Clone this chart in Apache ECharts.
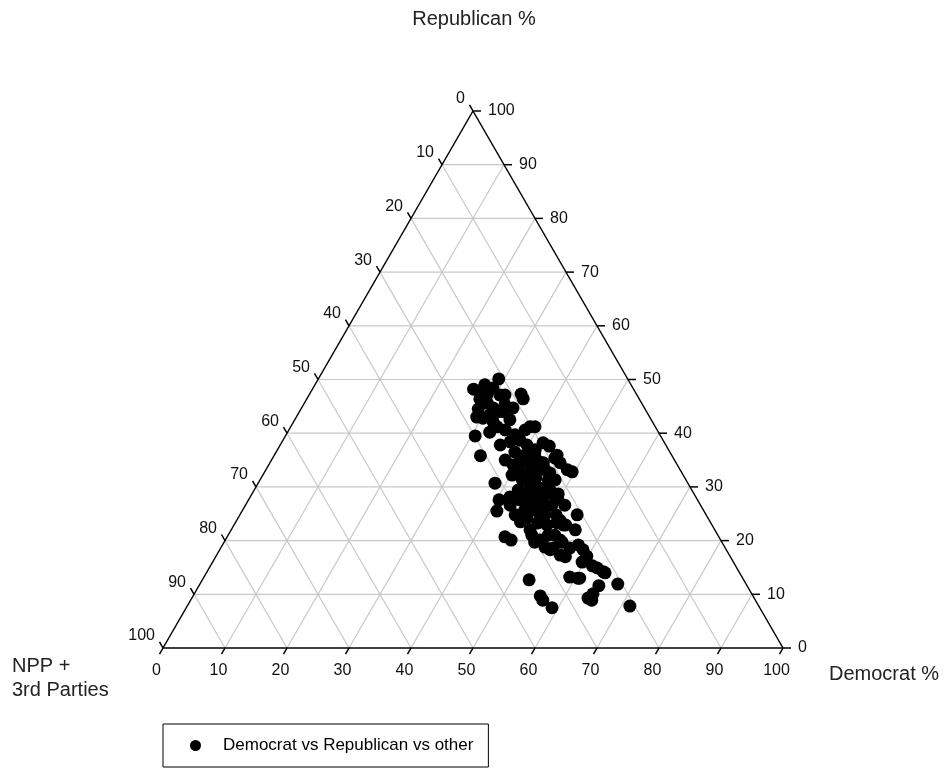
<!DOCTYPE html>
<html><head><meta charset="utf-8">
<script src="https://cdn.jsdelivr.net/npm/echarts@6/dist/echarts.min.js"></script>
<style>html,body{margin:0;padding:0;background:#fff}#c{width:948px;height:771px}</style>
</head><body><div id="c"></div>
<script>
// Ternary data: Democrat %, Republican % (other = 100 - D - R)
const democrat = [29.1,26.0,29.0,27.7,34.1,34.9,27.9,29.5,28.6,30.9,29.1,32.9,34.1,30.2,32.2,34.7,38.6,39.4,30.6,32.6,36.8,42.2,43.5,33.3,33.3,34.9,38.2,39.8,38.5,40.4,42.0,40.5,42.2,43.5,45.5,46.8,48.6,49.6,45.0,42.4,44.3,38.2,42.6,44.3,45.9,47.7,49.4,40.4,42.7,43.8,46.0,47.4,49.4,54.4,41.1,44.4,46.6,48.8,50.5,51.0,53.5,44.8,46.1,48.2,52.2,53.6,55.4,57.4,58.6,59.8,61.6,62.6,64.3,59.0,60.4,64.5,67.4,71.4,52.7,56.0,56.8,59.0,63.9,64.7,64.3,56.3,52.7,50.8,54.0,55.5,41.6,31.0,30.8,32.5,27.4,45.5,49.2,51.5,52.1,59.6,46.1,44.1,45.6,48.0,49.7,50.1,53.3,53.1,54.5,56.4,63.9,60.7,39.4,49.2,51.9,39.8,
  40.2,42.3,44.0,46.2,48.3,45.1,47.2,40.2,37.7,35.5,38.1,36.9,43.4,46.5,47.6,45.9,49.0,51.6,48.4,41.9,28.7,31.6,32.1];
const republican = [50.1,48.2,48.4,47.5,47.3,46.4,46.4,45.6,44.5,44.7,43.0,44.0,44.7,42.8,42.1,42.5,41.2,41.2,39.5,40.2,38.4,38.2,37.6,35.8,41.2,40.6,38.7,37.8,36.5,35.9,35.9,34.1,34.1,34.6,35.4,34.5,33.2,32.8,33.2,32.2,31.7,30.7,29.4,29.1,29.8,29.4,28.7,27.6,26.6,27.6,27.0,27.6,26.6,24.8,25.5,24.8,24.2,23.3,22.9,24.8,22.9,20.7,20.1,22.0,18.8,18.6,17.3,19.2,18.3,17.1,15.3,14.9,14.0,13.2,13.0,11.6,11.9,7.8,12.7,9.7,8.9,7.5,9.3,8.9,10.1,18.6,21.0,20.1,20.1,22.0,36.9,43.4,47.1,45.3,49.0,25.7,24.8,26.6,23.8,16.0,32.6,34.5,35.9,28.9,27.9,19.7,18.3,22.9,19.7,17.0,14.2,13.0,34.1,24.2,23.3,35.6,
  33.1,31.3,30.4,28.5,26.6,27.6,25.7,32.2,35.0,37.8,40.6,39.7,33.1,31.3,31.3,23.5,21.0,21.0,24.8,28.1,47.1,47.1,44.0];
const tickValues = [0,10,20,30,40,50,60,70,80,90,100];
const gridValues = [10,20,30,40,50,60,70,80,90];
const seriesName = 'Democrat vs Republican vs other';
const axisTitleTop = 'Republican %';
const axisTitleRight = 'Democrat %';
const axisTitleLeft = 'NPP +\n3rd Parties';

const FONT = "'Liberation Sans', Arial, sans-serif";

// ternary (D, R) -> cartesian (x, y)
function toXY(d, r) { return [d + r / 2, r]; }

const gridSegs = [];
gridValues.forEach(v => {
  gridSegs.push([...toXY(0, v), ...toXY(100 - v, v)]);
  gridSegs.push([...toXY(v, 0), ...toXY(v, 100 - v)]);
  gridSegs.push([...toXY(100 - v, 0), ...toXY(0, 100 - v)]);
});
const edgeSegs = [
  [...toXY(0, 0), ...toXY(100, 0)],
  [...toXY(100, 0), ...toXY(0, 100)],
  [...toXY(0, 100), ...toXY(0, 0)]
];

// ticks: [x, y, kind, value]  kind 0=bottom(Democrat) 1=right(Republican) 2=left(Other)
const ticks = [];
tickValues.forEach(v => {
  ticks.push([...toXY(v, 0), 0, v]);
  ticks.push([...toXY(100 - v, v), 1, v]);
  ticks.push([...toXY(0, 100 - v), 2, v]);
});

const points = democrat.map((d, i) => toXY(d, republican[i]));

function segRender(color, width) {
  return function (params, api) {
    const p1 = api.coord([api.value(0), api.value(1)]);
    const p2 = api.coord([api.value(2), api.value(3)]);
    return { type: 'line', shape: { x1: p1[0], y1: p1[1], x2: p2[0], y2: p2[1] },
      style: { stroke: color, lineWidth: width }, silent: true };
  };
}

const chart = echarts.init(document.getElementById('c'));
chart.setOption({
  animation: false,
  backgroundColor: '#fff',
  grid: { left: 163, top: 111, width: 620, height: 537 },
  xAxis: { type: 'value', min: 0, max: 100, show: false },
  yAxis: { type: 'value', min: 0, max: 100, show: false },
  legend: {
    left: 163, top: 724, padding: [13, 15, 13, 27],
    borderColor: '#000', borderWidth: 1,
    itemWidth: 11, itemHeight: 11, icon: 'circle',
    textStyle: { fontSize: 17, color: '#000', fontFamily: FONT, padding: [0, 0, 0, 17] },
    data: [seriesName]
  },
  graphic: [
    { type: 'text', left: 'center', x: 0, top: 9, style: { text: axisTitleTop, fontSize: 20, fontFamily: FONT, fill: '#222' } },
    { type: 'text', left: 829, top: 664, style: { text: axisTitleRight, fontSize: 20, fontFamily: FONT, fill: '#222' } },
    { type: 'text', left: 12, top: 654, style: { text: axisTitleLeft, fontSize: 20, lineHeight: 24, fontFamily: FONT, fill: '#222' } }
  ],
  series: [
    { type: 'custom', coordinateSystem: 'cartesian2d', data: gridSegs, encode: { x: [0, 2], y: [1, 3] },
      renderItem: segRender('#c8c8c8', 1.2), silent: true, z: 1 },
    { type: 'custom', coordinateSystem: 'cartesian2d', data: edgeSegs, encode: { x: [0, 2], y: [1, 3] },
      renderItem: segRender('#000', 1.5), silent: true, z: 2 },
    { type: 'custom', coordinateSystem: 'cartesian2d', data: ticks, encode: { x: 0, y: 1 }, silent: true, z: 3,
      renderItem: function (params, api) {
        const p = api.coord([api.value(0), api.value(1)]);
        const kind = api.value(2), v = api.value(3);
        let dx, dy, tx, ty, align;
        if (kind === 0) { dx = -3.5; dy = 6.1; tx = p[0] - 6.5; ty = p[1] + 23; align = 'center'; }
        else if (kind === 1) { dx = 8; dy = 0; tx = p[0] + 15; ty = p[1]; align = 'left'; }
        else { dx = -3.5; dy = -6.1; tx = p[0] - 8; ty = p[1] - 12; align = 'right'; }
        return { type: 'group', children: [
          { type: 'line', shape: { x1: p[0], y1: p[1], x2: p[0] + dx, y2: p[1] + dy }, style: { stroke: '#000', lineWidth: 1.5 } },
          { type: 'text', style: { text: String(v), x: tx, y: ty, align: align, verticalAlign: 'middle', fontSize: 16, fontFamily: FONT, fill: '#111' } }
        ] };
      } },
    { name: seriesName, type: 'scatter', data: points, symbol: 'circle', symbolSize: 13,
      itemStyle: { color: '#000', opacity: 1 }, z: 5 }
  ]
});
</script>
</body></html>
